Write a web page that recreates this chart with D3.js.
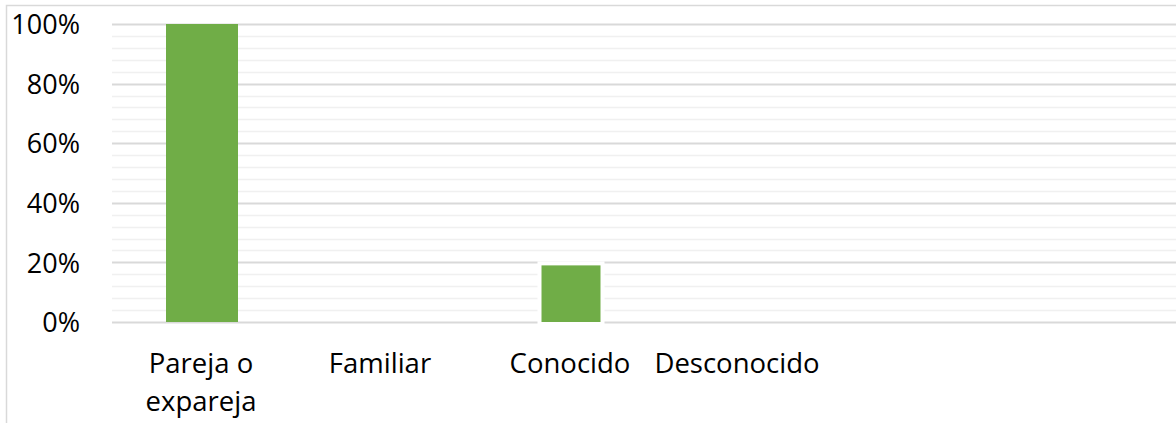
<!DOCTYPE html>
<html><head><meta charset="utf-8">
<script src="https://cdn.jsdelivr.net/npm/d3@7"></script>
<style>html,body{margin:0;padding:0;background:#fff;}svg{display:block;}</style>
</head><body>
<svg id="chart" width="1176" height="423"></svg>
<script>
const categories = ["Pareja o expareja", "Familiar", "Conocido", "Desconocido"];
const labelLines = [["Pareja o", "expareja"], ["Familiar"], ["Conocido"], ["Desconocido"]];
const values = [100, 0, 19, 0];
const yTicks = [0, 20, 40, 60, 80, 100];
const minorTicks = d3.range(0, 101, 4).filter(v => v % 20 !== 0);

const svg = d3.select("#chart");
const W = 1176, H = 423;
const plotLeft = 112, plotRight = 1180, plotTop = 24, plotBottom = 322;
const font = "'Open Sans', 'Liberation Sans', sans-serif";

// outer frame
svg.append("path").attr("d", `M6.5,${H+2}V5.5H${W+2}`).attr("fill", "none").attr("stroke", "#d9d9d9").attr("stroke-width", 1.5);

const y = d3.scaleLinear().domain([0, 100]).range([plotBottom, plotTop]);
const x = d3.scaleBand().domain(categories).range([plotLeft, plotLeft + 180 * categories.length]).paddingInner(0).paddingOuter(0);

// minor gridlines
svg.append("g").selectAll("line").data(minorTicks).join("line")
  .attr("x1", plotLeft).attr("x2", plotRight)
  .attr("y1", d => Math.round(y(d)) + 0.5).attr("y2", d => Math.round(y(d)) + 0.5)
  .attr("stroke", "#f0f0f0").attr("stroke-width", 1.5);
// major gridlines
svg.append("g").selectAll("line").data(yTicks).join("line")
  .attr("x1", plotLeft).attr("x2", plotRight)
  .attr("y1", d => Math.round(y(d)) + 0.5).attr("y2", d => Math.round(y(d)) + 0.5)
  .attr("stroke", "#d9d9d9").attr("stroke-width", 1.8);

// y axis labels
const yAxis = d3.axisLeft(y).tickValues(yTicks).tickFormat(d => d + "%").tickSize(0).tickPadding(0);
const ga = svg.append("g").attr("transform", `translate(80,0)`).call(yAxis);
ga.select(".domain").remove();
ga.selectAll("text").attr("font-family", font).attr("font-size", 27).attr("fill", "#000").attr("dy", "0.36em");

// bars
const bars = categories.map((c, i) => ({cat: c, v: values[i]})).filter(d => d.v > 0);
const barW = x.bandwidth() * 0.4;
const isOutlined = d => d.cat === "Conocido";
svg.append("g").selectAll("rect").data(bars).join("rect")
  .attr("x", d => {
    const cx = x(d.cat) + x.bandwidth() / 2 + (isOutlined(d) ? 9 : 0);
    const w = isOutlined(d) ? 63 : barW;
    return cx - w / 2;
  })
  .attr("width", d => isOutlined(d) ? 63 : barW)
  .attr("y", d => y(d.v) - (isOutlined(d) ? 2 : 0))
  .attr("height", d => y(0) - y(d.v) + (isOutlined(d) ? 4 : 0))
  .attr("fill", "#70ad47")
  .attr("stroke", d => isOutlined(d) ? "#fff" : "none")
  .attr("stroke-width", 4);

// category labels
const labelOffsets = {"Pareja o expareja": -1, "Familiar": -2, "Conocido": 8, "Desconocido": -5};
const lg = svg.append("g");
categories.forEach((c, i) => {
  const cx = x(c) + x.bandwidth() / 2 + labelOffsets[c];
  const t = lg.append("text")
    .attr("x", cx)
    .attr("y", 373)
    .attr("text-anchor", "middle")
    .attr("font-family", font).attr("font-size", 27.5).attr("fill", "#000");
  labelLines[i].forEach((ln, j) => {
    t.append("tspan").attr("x", cx).attr("dy", j === 0 ? 0 : 38).text(ln);
  });
});
</script>
</body></html>
